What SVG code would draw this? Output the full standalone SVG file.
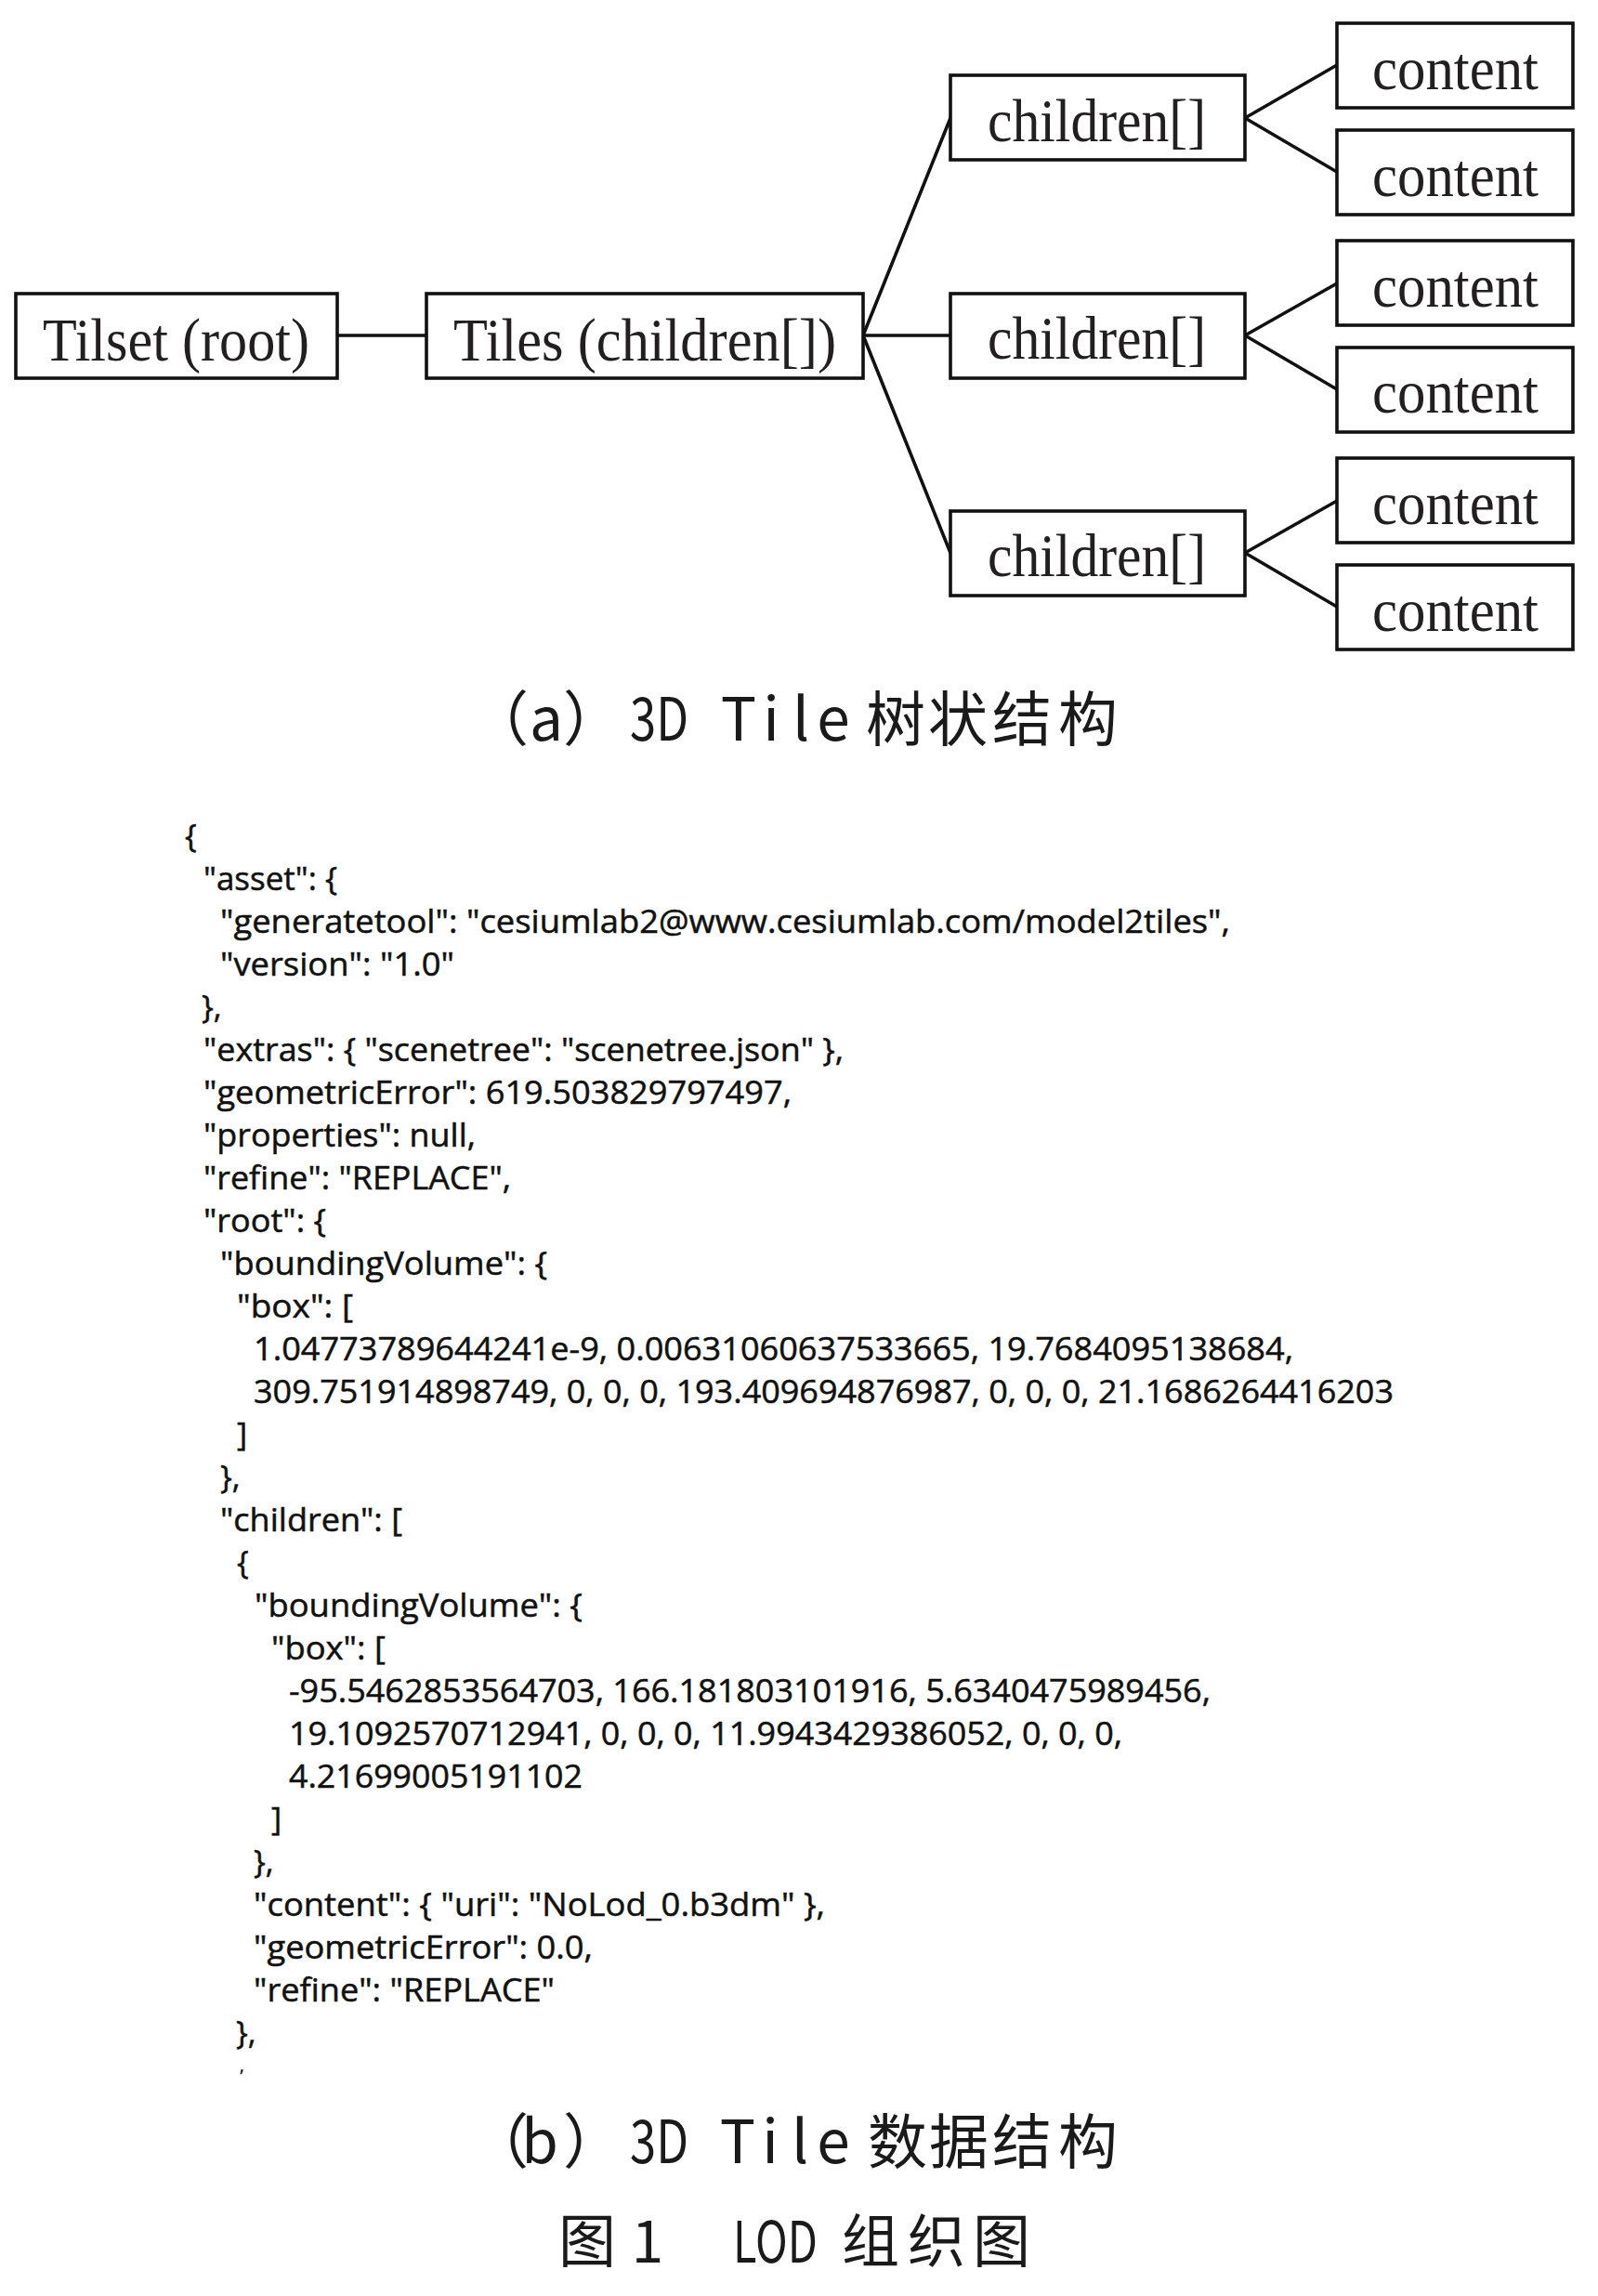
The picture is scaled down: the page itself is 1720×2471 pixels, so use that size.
<svg xmlns="http://www.w3.org/2000/svg" width="1720" height="2471" viewBox="0 0 1720 2471">
<style>
.box{fill:#fff;stroke:#111;stroke-width:3.6}
.lbl{font-family:"Liberation Serif","Times New Roman",serif;font-size:65px;fill:#231f20}
.con{fill:none;stroke:#111;stroke-width:3.6;stroke-linecap:round}
.js{font-family:"Open Sans","Noto Sans",sans-serif;font-size:34px;fill:#111;stroke:#111;stroke-width:0.5;white-space:pre}
.cap{font-family:"Noto Sans CJK SC","Noto Sans",sans-serif;font-size:64px;fill:#1a1a1a;text-anchor:middle}
.capl{font-family:"Noto Sans CJK SC","Noto Sans",sans-serif;font-size:64px;fill:#1a1a1a}
</style>
<rect width="1720" height="2471" fill="#fff"/>
<g id="connectors">
<path class="con" d="M363,361 H459"/>
<path class="con" d="M929,361 L1023,127"/>
<path class="con" d="M929,361 H1023"/>
<path class="con" d="M929,361 L1023,595"/>
<path class="con" d="M1340,127 L1439,70 M1340,127 L1439,185"/>
<path class="con" d="M1340,361 L1439,305 M1340,361 L1439,419"/>
<path class="con" d="M1340,595 L1439,539 M1340,595 L1439,653"/>
</g>
<g id="tilset"><rect class="box" x="17" y="316" width="346" height="91"/><text class="lbl" x="46" y="388" textLength="287" lengthAdjust="spacingAndGlyphs">Tilset (root)</text></g>
<g id="tiles"><rect class="box" x="459" y="316" width="470" height="91"/><text class="lbl" x="488" y="388" textLength="412" lengthAdjust="spacingAndGlyphs">Tiles (children[])</text></g>
<g id="children1"><rect class="box" x="1023" y="81" width="317" height="91"/><text class="lbl" x="1063" y="152" textLength="235" lengthAdjust="spacingAndGlyphs">children[]</text></g>
<g id="children2"><rect class="box" x="1023" y="316" width="317" height="91"/><text class="lbl" x="1063" y="386" textLength="235" lengthAdjust="spacingAndGlyphs">children[]</text></g>
<g id="children3"><rect class="box" x="1023" y="550" width="317" height="91"/><text class="lbl" x="1063" y="620" textLength="235" lengthAdjust="spacingAndGlyphs">children[]</text></g>
<g id="content1"><rect class="box" x="1439" y="25" width="254" height="91"/><text class="lbl" x="1477" y="96" textLength="179" lengthAdjust="spacingAndGlyphs">content</text></g>
<g id="content2"><rect class="box" x="1439" y="140" width="254" height="91"/><text class="lbl" x="1477" y="211" textLength="179" lengthAdjust="spacingAndGlyphs">content</text></g>
<g id="content3"><rect class="box" x="1439" y="259" width="254" height="91"/><text class="lbl" x="1477" y="330" textLength="179" lengthAdjust="spacingAndGlyphs">content</text></g>
<g id="content4"><rect class="box" x="1439" y="374" width="254" height="91"/><text class="lbl" x="1477" y="444" textLength="179" lengthAdjust="spacingAndGlyphs">content</text></g>
<g id="content5"><rect class="box" x="1439" y="493" width="254" height="91"/><text class="lbl" x="1477" y="564" textLength="179" lengthAdjust="spacingAndGlyphs">content</text></g>
<g id="content6"><rect class="box" x="1439" y="608" width="254" height="91"/><text class="lbl" x="1477" y="679" textLength="179" lengthAdjust="spacingAndGlyphs">content</text></g>
<g id="caption-a">
<text class="cap" y="797" x="537 588 638">（a）</text>
<text class="capl" x="678" y="797" textLength="63" lengthAdjust="spacingAndGlyphs">3D</text>
<text class="cap" y="797" x="795 830 862 897 964 1031 1100 1171">Tile树状结构</text>
</g>
<g id="json">
<text class="js" x="199" y="912">{</text>
<text class="js" x="219" y="958" textLength="144" lengthAdjust="spacingAndGlyphs">"asset": {</text>
<text class="js" x="237" y="1004" textLength="1087" lengthAdjust="spacingAndGlyphs">"generatetool": "cesiumlab2@www.cesiumlab.com/model2tiles",</text>
<text class="js" x="237" y="1050" textLength="252" lengthAdjust="spacingAndGlyphs">"version": "1.0"</text>
<text class="js" x="217" y="1096">},</text>
<text class="js" x="219" y="1142" textLength="689" lengthAdjust="spacingAndGlyphs">"extras": { "scenetree": "scenetree.json" },</text>
<text class="js" x="219" y="1188" textLength="633" lengthAdjust="spacingAndGlyphs">"geometricError": 619.503829797497,</text>
<text class="js" x="219" y="1234" textLength="293" lengthAdjust="spacingAndGlyphs">"properties": null,</text>
<text class="js" x="219" y="1280" textLength="331" lengthAdjust="spacingAndGlyphs">"refine": "REPLACE",</text>
<text class="js" x="219" y="1326" textLength="132" lengthAdjust="spacingAndGlyphs">"root": {</text>
<text class="js" x="237" y="1372" textLength="352" lengthAdjust="spacingAndGlyphs">"boundingVolume": {</text>
<text class="js" x="255" y="1418" textLength="125" lengthAdjust="spacingAndGlyphs">"box": [</text>
<text class="js" x="273" y="1464" textLength="1119" lengthAdjust="spacingAndGlyphs">1.04773789644241e-9, 0.00631060637533665, 19.7684095138684,</text>
<text class="js" x="273" y="1510" textLength="1227" lengthAdjust="spacingAndGlyphs">309.751914898749, 0, 0, 0, 193.409694876987, 0, 0, 0, 21.1686264416203</text>
<text class="js" x="255" y="1556">]</text>
<text class="js" x="237" y="1602">},</text>
<text class="js" x="237" y="1648" textLength="196" lengthAdjust="spacingAndGlyphs">"children": [</text>
<text class="js" x="255" y="1694">{</text>
<text class="js" x="274" y="1740" textLength="353" lengthAdjust="spacingAndGlyphs">"boundingVolume": {</text>
<text class="js" x="292" y="1786" textLength="123" lengthAdjust="spacingAndGlyphs">"box": [</text>
<text class="js" x="311" y="1832" textLength="992" lengthAdjust="spacingAndGlyphs">-95.5462853564703, 166.181803101916, 5.6340475989456,</text>
<text class="js" x="311" y="1878" textLength="897" lengthAdjust="spacingAndGlyphs">19.1092570712941, 0, 0, 0, 11.9943429386052, 0, 0, 0,</text>
<text class="js" x="311" y="1924" textLength="316" lengthAdjust="spacingAndGlyphs">4.21699005191102</text>
<text class="js" x="292" y="1970">]</text>
<text class="js" x="273" y="2016">},</text>
<text class="js" x="273" y="2062" textLength="615" lengthAdjust="spacingAndGlyphs">"content": { "uri": "NoLod_0.b3dm" },</text>
<text class="js" x="273" y="2108" textLength="365" lengthAdjust="spacingAndGlyphs">"geometricError": 0.0,</text>
<text class="js" x="273" y="2154" textLength="324" lengthAdjust="spacingAndGlyphs">"refine": "REPLACE"</text>
<text class="js" x="254" y="2200">},</text>
<text class="js" x="258" y="2230" style="font-size:18px">,</text>
</g>
<g id="caption-b">
<text class="cap" y="2328" x="537 581 638">（b）</text>
<text class="capl" x="678" y="2328" textLength="63" lengthAdjust="spacingAndGlyphs">3D</text>
<text class="cap" y="2328" x="794 829 861 897 966 1032 1100 1171">Tile数据结构</text>
</g>
<g id="figure-caption">
<text class="cap" style="font-size:62px" y="2435" x="632 697">图1</text>
<text class="capl" style="font-size:62px" x="789" y="2435" textLength="91" lengthAdjust="spacingAndGlyphs">LOD</text>
<text class="cap" style="font-size:62px" y="2435" x="937 1008 1078">组织图</text>
</g>
</svg>
